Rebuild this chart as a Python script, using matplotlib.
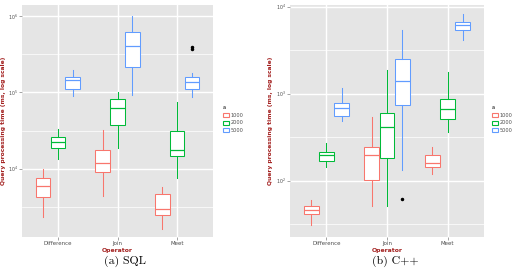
import numpy as np
import matplotlib
matplotlib.use('Agg')
import matplotlib.pyplot as plt
from matplotlib.patches import Patch

operators = ['Difference', 'Join', 'Meet']
sizes = ['1000', '2000', '5000']
colors = ['#F8766D', '#00BA38', '#619CFF']

# log10 of (whisker low, Q1, median, Q3, whisker high), per operator, per size
sql_1000 = [[3.36, 3.63, 3.77, 3.87, 4.00], [3.64, 3.95, 4.07, 4.24, 4.51], [3.21, 3.39, 3.47, 3.66, 3.76]]
sql_2000 = [[4.12, 4.27, 4.35, 4.41, 4.52], [4.27, 4.57, 4.80, 4.92, 5.01], [3.88, 4.17, 4.24, 4.49, 4.88]]
sql_5000 = [[4.95, 5.05, 5.16, 5.20, 5.29], [4.97, 5.34, 5.61, 5.80, 6.01], [4.94, 5.04, 5.14, 5.20, 5.25]]
sql_outliers = {(2, 2): [5.57, 5.60]}

cpp_1000 = [[1.49, 1.61, 1.66, 1.71, 1.78], [1.71, 2.01, 2.29, 2.39, 2.73], [2.08, 2.15, 2.20, 2.29, 2.39]]
cpp_2000 = [[2.16, 2.23, 2.29, 2.33, 2.43], [1.71, 2.26, 2.62, 2.78, 3.27], [2.56, 2.71, 2.82, 2.94, 3.25]]
cpp_5000 = [[2.69, 2.74, 2.84, 2.89, 3.06], [2.12, 2.87, 3.15, 3.40, 3.73], [3.62, 3.73, 3.79, 3.83, 3.92]]
cpp_outliers = {(1, 2): [1.79]}

label_red = '#A3201F'
bg = '#E5E5E5'


def draw_panel(ax, series, outliers, ylim, yticks, minor):
    ax.set_facecolor(bg)
    for s in ax.spines.values():
        s.set_visible(False)
    ax.set_yscale('log')
    ax.set_axisbelow(True)
    for m in minor:
        ax.axhline(10 ** m, color='white', lw=0.5, zorder=0)
    for t in yticks:
        ax.axhline(10 ** t, color='white', lw=1.0, zorder=0)
    for i in range(len(operators)):
        ax.axvline(i + 1, color='white', lw=1.0, zorder=0)

    width = 0.25
    for j, data in enumerate(series):
        stats = []
        pos = []
        for i, q in enumerate(data):
            v = [10 ** x for x in q]
            fl = [10 ** x for x in outliers.get((i, j), [])]
            stats.append(dict(whislo=v[0], q1=v[1], med=v[2], q3=v[3], whishi=v[4], fliers=fl))
            pos.append(i + 1 + (j - 1) * width)
        c = colors[j]
        ax.bxp(stats, positions=pos, widths=width * 0.98, patch_artist=True, showcaps=False,
               boxprops=dict(facecolor='white', edgecolor=c, lw=0.75),
               whiskerprops=dict(color=c, lw=0.75),
               medianprops=dict(color=c, lw=0.9),
               flierprops=dict(marker='o', markersize=1.5, markerfacecolor='black',
                               markeredgecolor='black'),
               manage_ticks=False)

    ax.set_xlim(0.4, 3.6)
    ax.set_ylim(10 ** ylim[0], 10 ** ylim[1])
    ax.set_xticks(range(1, len(operators) + 1))
    ax.set_xticklabels(operators)
    ax.set_yticks([10 ** t for t in yticks])
    ax.set_yticklabels([r'$10^{%d}$' % t for t in yticks])
    ax.yaxis.set_minor_locator(matplotlib.ticker.NullLocator())
    ax.tick_params(axis='both', length=2, width=0.5, color='#7F7F7F', labelsize=4,
                   labelcolor='#4D4D4D', pad=1.2)
    ax.tick_params(axis='y', labelsize=3.4)
    ax.text(-0.098, 0.5, 'Query processing time (ms, log scale)', transform=ax.transAxes,
            rotation=90, ha='center', va='center', fontsize=4.3, fontweight='bold', color=label_red)
    ax.text(0.5, -0.06, 'Operator', transform=ax.transAxes, ha='center', va='center',
            fontsize=4.4, fontweight='bold', color=label_red)


fig = plt.figure(figsize=(5.14, 2.78), dpi=100)
ax1 = fig.add_axes([22 / 514, 41 / 278, 191 / 514, 232 / 278])
ax2 = fig.add_axes([290 / 514, 41 / 278, 194 / 514, 232 / 278])

draw_panel(ax1, [sql_1000, sql_2000, sql_5000], sql_outliers, (3.10, 6.15), [4, 5, 6], [3.5, 4.5, 5.5])
draw_panel(ax2, [cpp_1000, cpp_2000, cpp_5000], cpp_outliers, (1.35, 4.02), [2, 3, 4], [1.5, 2.5, 3.5])

handles = [Patch(facecolor='white', edgecolor=c, lw=0.8, label=s) for c, s in zip(colors, sizes)]
for x0 in (219 / 514, 488 / 514):
    leg = fig.legend(handles=handles, title='a', loc='upper left', bbox_to_anchor=(x0, 1 - 102 / 278),
                     fontsize=3.6, title_fontsize=3.6, frameon=False, handlelength=1.2,
                     handleheight=0.9, handletextpad=0.4, labelspacing=0.5, borderpad=0.2)
    leg._legend_box.align = 'left'
    for t in leg.get_texts():
        t.set_color('#4D4D4D')

fig.text(125 / 514, 1 - 261 / 278, '(a) SQL', family='cmr10', fontsize=8.5, ha='center', va='center')
fig.text(395 / 514, 1 - 261 / 278, '(b) C++', family='cmr10', fontsize=8.5, ha='center', va='center')

fig.savefig('out.png', dpi=100)
